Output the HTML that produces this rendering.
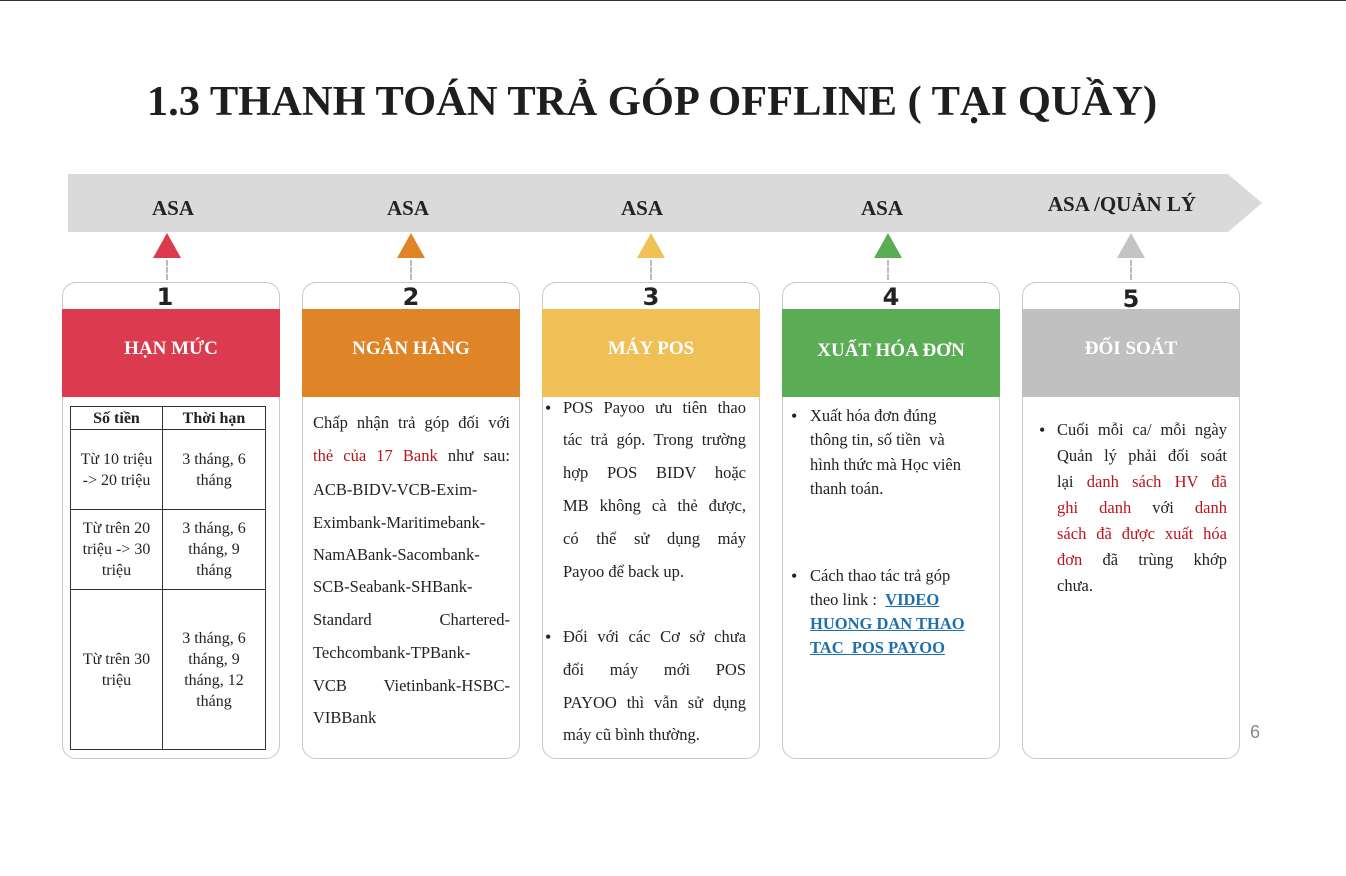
<!DOCTYPE html>
<html><head><meta charset="utf-8">
<style>
*{margin:0;padding:0;box-sizing:border-box}
body{width:1346px;height:876px;background:#fff;position:relative;overflow:hidden;font-family:"Liberation Serif",serif;color:#222}
.abs{position:absolute}
.title{left:0;width:1304px;top:77px;text-align:center;font-weight:bold;font-size:42.5px;color:#1e1e1e;white-space:nowrap}
.card{position:absolute;top:282px;width:218px;height:477px;border:1px solid #c8c8c8;border-radius:14px;background:#fff}
.num{position:absolute;top:0;width:100%;text-align:center;font-family:"DejaVu Sans","Liberation Sans",sans-serif;font-weight:bold;font-size:24px;line-height:28px;color:#222}
.head{position:absolute;left:-1px;width:218px;top:26px;height:88px;color:#fff;font-weight:bold;font-size:19px;display:flex;align-items:center;justify-content:center;padding-bottom:8px}
.asa{position:absolute;top:196px;font-weight:bold;font-size:21px;color:#222;text-align:center;width:200px}
.tri{position:absolute;top:233px;width:0;height:0;border-left:14px solid transparent;border-right:14px solid transparent;border-bottom:25px solid}
.dash{position:absolute;top:260px;height:20px;border-left:2px dashed #bbb}
.ln{position:absolute;height:24px;line-height:24px;font-size:16.5px;white-space:nowrap}
.j{text-align:justify;text-align-last:justify;white-space:normal;overflow:hidden}
.b{position:absolute;font-size:18px;line-height:24px}
.red{color:#b8151d}
.lnk{color:#1f6fae;font-weight:bold;text-decoration:underline}
table{position:absolute;left:70px;top:406px;width:195px;height:344px;border-collapse:collapse;font-size:16px;text-align:center;line-height:21px;table-layout:fixed}
td,th{border:1px solid #333;padding:0 2px}
th{font-size:16px;height:23px}
</style></head>
<body>
<div class="abs" style="left:0;top:0;width:1346px;height:1px;background:#333"></div>
<div class="abs title">1.3 THANH TOÁN TRẢ GÓP OFFLINE ( TẠI QUẦY)</div>

<svg class="abs" style="left:0;top:0" width="1346" height="260">
<polygon points="68,174 1228,174 1262,203 1228,232 68,232" fill="#dadada"/>
</svg>
<div class="asa" style="left:73px">ASA</div>
<div class="asa" style="left:308px">ASA</div>
<div class="asa" style="left:542px">ASA</div>
<div class="asa" style="left:782px">ASA</div>
<div class="asa" style="left:1022px;top:192px">ASA /QUẢN LÝ</div>

<div class="tri" style="left:153px;border-bottom-color:#dc3b4f"></div>
<div class="tri" style="left:397px;border-bottom-color:#e08428"></div>
<div class="tri" style="left:637px;border-bottom-color:#f0c256"></div>
<div class="tri" style="left:874px;border-bottom-color:#5aac55"></div>
<div class="tri" style="left:1117px;border-bottom-color:#c4c4c4"></div>
<div class="dash" style="left:166px"></div>
<div class="dash" style="left:410px"></div>
<div class="dash" style="left:650px"></div>
<div class="dash" style="left:887px"></div>
<div class="dash" style="left:1130px"></div>

<div class="card" style="left:62px">
<div class="num" style="margin-left:-6px">1</div>
<div class="head" style="background:#dc3b4f">HẠN MỨC</div>
</div>
<table>
<colgroup><col style="width:92px"><col style="width:103px"></colgroup>
<tr><th>Số tiền</th><th>Thời hạn</th></tr>
<tr style="height:80px"><td>Từ 10 triệu<br>-&gt; 20 triệu</td><td>3 tháng, 6<br>tháng</td></tr>
<tr style="height:80px"><td>Từ trên 20<br>triệu -&gt; 30<br>triệu</td><td>3 tháng, 6<br>tháng, 9<br>tháng</td></tr>
<tr><td>Từ trên 30<br>triệu</td><td>3 tháng, 6<br>tháng, 9<br>tháng, 12<br>tháng</td></tr>
</table>

<div class="card" style="left:302px">
<div class="num">2</div>
<div class="head" style="background:#e08428">NGÂN HÀNG</div>
</div>
<div>
<div class="ln j" style="left:313px;width:197px;top:411px">Chấp nhận trả góp đối với</div>
<div class="ln j" style="left:313px;width:197px;top:444px"><span class="red">thẻ của 17 Bank</span> như sau:</div>
<div class="ln" style="left:313px;top:478px">ACB-BIDV-VCB-Exim-</div>
<div class="ln" style="left:313px;top:511px">Eximbank-Maritimebank-</div>
<div class="ln" style="left:313px;top:543px">NamABank-Sacombank-</div>
<div class="ln" style="left:313px;top:575px">SCB-Seabank-SHBank-</div>
<div class="ln j" style="left:313px;width:197px;top:608px">Standard Chartered-</div>
<div class="ln" style="left:313px;top:641px">Techcombank-TPBank-</div>
<div class="ln j" style="left:313px;width:197px;top:674px">VCB Vietinbank-HSBC-</div>
<div class="ln" style="left:313px;top:706px">VIBBank</div>
</div>

<div class="card" style="left:542px">
<div class="num">3</div>
<div class="head" style="background:#f0bf55">MÁY POS</div>
</div>
<div>
<div class="b" style="left:545px;top:396px">•</div>
<div class="ln j" style="left:563px;width:183px;top:396px">POS Payoo ưu tiên thao</div>
<div class="ln j" style="left:563px;width:183px;top:428px">tác trả góp. Trong trường</div>
<div class="ln j" style="left:563px;width:183px;top:461px">hợp POS BIDV hoặc</div>
<div class="ln j" style="left:563px;width:183px;top:494px">MB không cà thẻ được,</div>
<div class="ln j" style="left:563px;width:183px;top:527px">có thể sử dụng máy</div>
<div class="ln" style="left:563px;top:560px">Payoo để back up.</div>
<div class="b" style="left:545px;top:625px">•</div>
<div class="ln j" style="left:563px;width:183px;top:625px">Đối với các Cơ sở chưa</div>
<div class="ln j" style="left:563px;width:183px;top:658px">đổi máy mới POS</div>
<div class="ln j" style="left:563px;width:183px;top:691px">PAYOO thì vẫn sử dụng</div>
<div class="ln" style="left:563px;top:723px">máy cũ bình thường.</div>
</div>

<div class="card" style="left:782px">
<div class="num">4</div>
<div class="head" style="background:#5aac55;padding-top:4px">XUẤT HÓA ĐƠN</div>
</div>
<div>
<div class="b" style="left:791px;top:404px">•</div>
<div class="ln" style="left:810px;top:404px">Xuất hóa đơn đúng</div>
<div class="ln" style="left:810px;top:428px">thông tin, số tiền&nbsp; và</div>
<div class="ln" style="left:810px;top:453px">hình thức mà Học viên</div>
<div class="ln" style="left:810px;top:477px">thanh toán.</div>
<div class="b" style="left:791px;top:564px">•</div>
<div class="ln" style="left:810px;top:564px">Cách thao tác trả góp</div>
<div class="ln" style="left:810px;top:588px">theo link :&nbsp; <span class="lnk">VIDEO</span></div>
<div class="ln lnk" style="left:810px;top:612px">HUONG DAN THAO</div>
<div class="ln lnk" style="left:810px;top:636px">TAC&nbsp; POS PAYOO</div>
</div>

<div class="card" style="left:1022px">
<div class="num" style="top:2px">5</div>
<div class="head" style="background:#c0c0c0">ĐỐI SOÁT</div>
</div>
<div>
<div class="b" style="left:1039px;top:418px">•</div>
<div class="ln j" style="left:1057px;width:170px;top:418px">Cuối mỗi ca/ mỗi ngày</div>
<div class="ln j" style="left:1057px;width:170px;top:444px">Quản lý phải đối soát</div>
<div class="ln j" style="left:1057px;width:170px;top:470px">lại <span class="red">danh sách HV đã</span></div>
<div class="ln j" style="left:1057px;width:170px;top:496px"><span class="red">ghi danh</span> với <span class="red">danh</span></div>
<div class="ln j red" style="left:1057px;width:170px;top:522px">sách đã được xuất hóa</div>
<div class="ln j" style="left:1057px;width:170px;top:548px"><span class="red">đơn</span> đã trùng khớp</div>
<div class="ln" style="left:1057px;top:574px">chưa.</div>
</div>

<div class="abs" style="left:1250px;top:722px;font-family:'Liberation Sans',sans-serif;font-size:18px;color:#888">6</div>
</body></html>
